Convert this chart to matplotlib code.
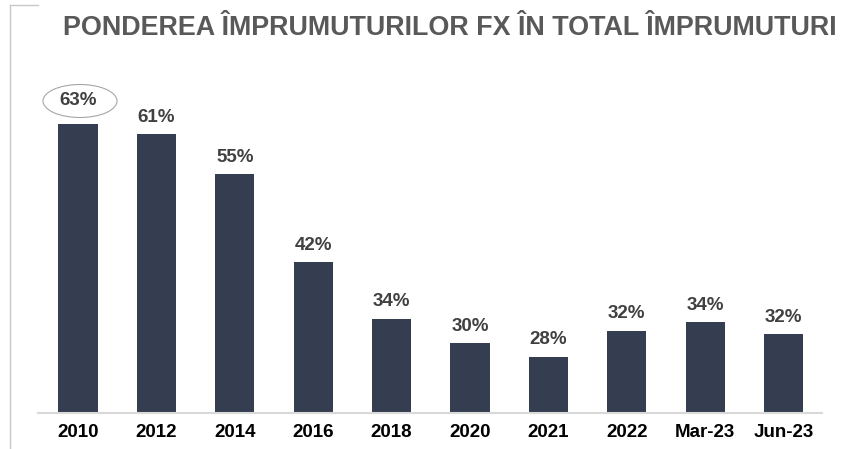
import matplotlib.pyplot as plt
from matplotlib.patches import Ellipse
from matplotlib.lines import Line2D

plt.rcParams['font.family'] = ['Liberation Sans', 'DejaVu Sans']

categories = ["2010", "2012", "2014", "2016", "2018", "2020", "2021", "2022", "Mar-23", "Jun-23"]
values = [63, 61.5, 55.5, 42.2, 33.7, 30, 28, 31.9, 33.2, 31.4]
labels = ["63%", "61%", "55%", "42%", "34%", "30%", "28%", "32%", "34%", "32%"]

base = 19.5
fig = plt.figure(figsize=(8.55, 4.49), dpi=100)
ax = fig.add_axes([38/855, 1-413/449, (822-38)/855, (413-90)/449])

x = range(len(categories))
ax.bar(x, [v - base for v in values], bottom=base, width=0.5, color="#343e50")
ax.set_ylim(base, base + 323/6.64)
ax.set_xlim(-0.51, 9.49)

for i, (v, lab) in enumerate(zip(values, labels)):
    off = 11 if i == 0 else 6
    ax.annotate(lab, (i, v), xytext=(0, off), textcoords="offset points",
                ha="center", va="bottom", fontsize=13.5, fontweight="bold", color="#404040")

ax.set_xticks(list(x))
ax.set_xticklabels(categories, fontsize=13.5, fontweight="bold", color="black")
ax.tick_params(axis="x", length=0, pad=8)
ax.set_yticks([])
for s in ["top", "right", "left"]:
    ax.spines[s].set_visible(False)
ax.spines["bottom"].set_color("#d9d9d9")
ax.spines["bottom"].set_linewidth(1.5)

# ellipse around the first label
fig.patches.append(Ellipse((80/855, 1-101/449), 74/855, 33/449, transform=fig.transFigure,
                           fill=False, edgecolor="#a6a6a6", linewidth=0.8))

# frame lines at left
fig.lines.append(Line2D([10/855, 10/855], [0, 1-5/449], transform=fig.transFigure, color="#c8c8c8", linewidth=1))
fig.lines.append(Line2D([10/855, 38/855], [1-5/449, 1-5/449], transform=fig.transFigure, color="#c8c8c8", linewidth=1))

fig.text(450/855, 1-28/449, "PONDEREA ÎMPRUMUTURILOR FX ÎN TOTAL ÎMPRUMUTURI",
         ha="center", va="center", fontsize=19.4, fontweight="bold", color="#595959")

fig.savefig("out.png", dpi=100)
